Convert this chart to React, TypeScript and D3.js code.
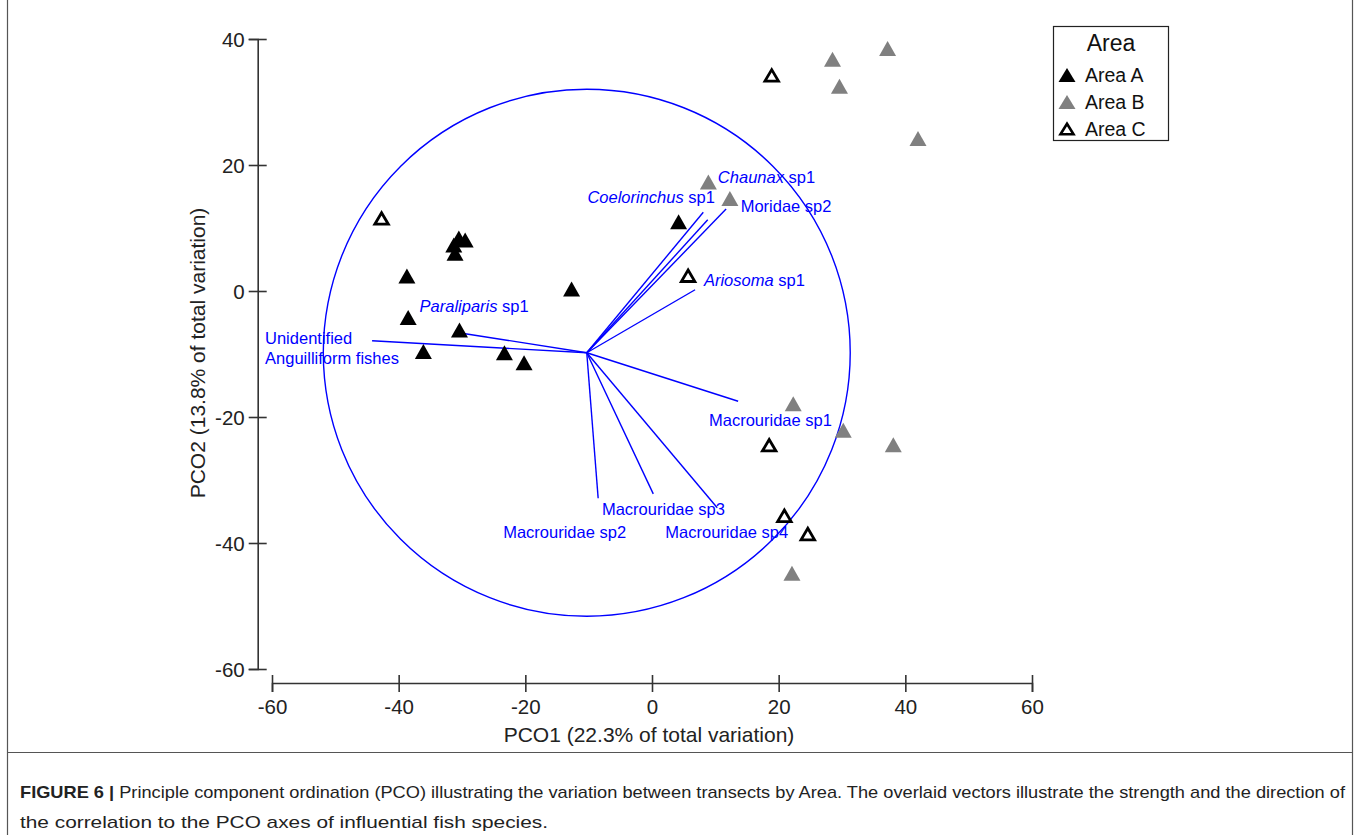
import React, { useRef, useEffect } from 'react';
import * as d3 from 'd3';

// transect scores (PCO1, PCO2)
const areaA = [
  [-38.7, 2.4], [-38.5, -4.2], [-36.1, -9.6], [-30.5, 8.4], [-29.5, 8.1],
  [-31.3, 7.3], [-31.1, 6.0], [-30.4, -6.2], [-23.3, -9.8], [-20.2, -11.4],
  [-12.7, 0.3], [4.2, 11.0],
];
const areaB = [
  [8.9, 17.3], [12.3, 14.7], [28.5, 36.8], [37.2, 38.5], [29.6, 32.5],
  [42.0, 24.2], [22.3, -17.9], [30.2, -22.1], [38.1, -24.4], [22.1, -44.8],
];
const areaC = [
  [18.9, 34.3], [-42.7, 11.6], [5.7, 2.5], [18.5, -24.4], [20.9, -35.6], [24.6, -38.5],
];

const vectorOrigin = [-10.3, -9.8];
const circleRadius = 41.6;

// species vectors: end point and where the label sits
const speciesNames = [
  ['Unidentified', 'Anguilliform fishes'],
  ['Paraliparis', ' sp1'],
  ['Coelorinchus', ' sp1'],
  ['Chaunax', ' sp1'],
  ['Moridae sp2', ''],
  ['Ariosoma', ' sp1'],
  ['Macrouridae sp1', ''],
  ['Macrouridae sp2', ''],
  ['Macrouridae sp3', ''],
  ['Macrouridae sp4', ''],
];
const italicGenus = [false, true, true, true, false, true, false, false, false, false];
const vectorEnds = [
  [-44.2, -7.9], [-30.0, -6.7], [8.1, 12.5], [8.8, 11.3], [11.7, 13.0],
  [6.8, 0.2], [13.6, -17.5], [-8.5, -32.9], [0.2, -32.2], [10.3, -34.4],
];
const labelAnchors = [
  [-61.1, -8.4], [-36.7, -3.3], [-10.2, 14.0], [10.4, 17.2], [14.0, 12.5],
  [8.2, 0.8], [9.0, -21.4], [-23.5, -39.2], [-7.9, -35.5], [2.1, -39.2],
];

const xTicks = [-60, -40, -20, 0, 20, 40, 60];
const yTicks = [40, 20, 0, -20, -40, -60];
const legendLabels = ['Area A', 'Area B', 'Area C'];

const FONT = 'Liberation Sans, Arial, sans-serif';
const BLUE = '#0000ff';

const tri = (w: number, h: number) =>
  `M0,${-h / 2}L${w / 2},${h / 2}L${-w / 2},${h / 2}Z`;

export default function App() {
  const ref = useRef<SVGSVGElement>(null);
  const width = 1360;
  const height = 835;

  useEffect(() => {
    if (!ref.current) return;
    const svg = d3.select(ref.current);
    svg.selectAll('*').remove();

    const x = d3.scaleLinear().domain([-60, 60]).range([272, 1032]);
    const y = d3.scaleLinear().domain([40, -60]).range([39, 669]);

    // figure frame + caption separator
    const frame = svg.append('g').attr('stroke', '#555').attr('stroke-width', 1.2);
    frame.append('line').attr('x1', 7.5).attr('x2', 7.5).attr('y1', 0).attr('y2', height);
    frame.append('line').attr('x1', 1352.5).attr('x2', 1352.5).attr('y1', 0).attr('y2', height);
    frame.append('line').attr('x1', 7.5).attr('x2', 1352.5).attr('y1', 752.5).attr('y2', 752.5);

    // axes
    const fmt = (d: any) => String(d);
    const yAxis = svg
      .append('g')
      .attr('transform', 'translate(257.7,0)')
      .call(d3.axisLeft(y).tickValues(yTicks).tickFormat(fmt).tickSizeOuter(0).tickSize(9));
    yAxis.selectAll('.tick line').attr('x1', 9).attr('x2', -9);
    yAxis.selectAll('.tick text').attr('x', -13).attr('dy', '0.36em');

    const xAxis = svg
      .append('g')
      .attr('transform', 'translate(0,683)')
      .call(d3.axisBottom(x).tickValues(xTicks).tickFormat(fmt).tickSizeOuter(0).tickSize(9));
    xAxis.selectAll('.tick line').attr('y1', -8).attr('y2', 9);
    xAxis.selectAll('.tick text').attr('y', 31).attr('dy', null);

    [yAxis, xAxis].forEach((g) => {
      g.attr('font-family', FONT).attr('font-size', 20.5);
      g.selectAll('path.domain').attr('stroke', '#333').attr('stroke-width', 1.6);
      g.selectAll('.tick line').attr('stroke', '#333').attr('stroke-width', 1.6);
      g.selectAll('.tick text').attr('fill', '#222');
    });

    svg
      .append('text')
      .attr('x', 649)
      .attr('y', 742)
      .attr('text-anchor', 'middle')
      .attr('font-family', FONT)
      .attr('font-size', 21)
      .attr('fill', '#222')
      .text('PCO1 (22.3% of total variation)');

    svg
      .append('text')
      .attr('transform', 'translate(205,353) rotate(-90)')
      .attr('text-anchor', 'middle')
      .attr('font-family', FONT)
      .attr('font-size', 21)
      .attr('fill', '#222')
      .text('PCO2 (13.8% of total variation)');

    // correlation circle + vectors
    const cx = x(vectorOrigin[0]);
    const cy = y(vectorOrigin[1]);
    svg
      .append('circle')
      .attr('cx', cx)
      .attr('cy', cy)
      .attr('r', x(vectorOrigin[0] + circleRadius) - cx)
      .attr('fill', 'none')
      .attr('stroke', BLUE)
      .attr('stroke-width', 1.4);

    svg
      .append('g')
      .selectAll('line')
      .data(vectorEnds)
      .join('line')
      .attr('x1', cx)
      .attr('y1', cy)
      .attr('x2', (d) => x(d[0]))
      .attr('y2', (d) => y(d[1]))
      .attr('stroke', BLUE)
      .attr('stroke-width', 1.4);

    // points
    const pts = svg.append('g');
    pts
      .selectAll('path.b')
      .data(areaB)
      .join('path')
      .attr('class', 'b')
      .attr('d', tri(17, 15))
      .attr('transform', (d) => `translate(${x(d[0])},${y(d[1])})`)
      .attr('fill', '#808080');
    pts
      .selectAll('path.c')
      .data(areaC)
      .join('path')
      .attr('class', 'c')
      .attr('d', tri(13.5, 11.5))
      .attr('transform', (d) => `translate(${x(d[0])},${y(d[1]) + 0.5})`)
      .attr('fill', '#fff')
      .attr('stroke', '#000')
      .attr('stroke-width', 2.8)
      .attr('stroke-linejoin', 'miter');
    pts
      .selectAll('path.a')
      .data(areaA)
      .join('path')
      .attr('class', 'a')
      .attr('d', tri(17, 15))
      .attr('transform', (d) => `translate(${x(d[0])},${y(d[1])})`)
      .attr('fill', '#000');

    // vector labels
    const labels = svg
      .append('g')
      .attr('font-family', FONT)
      .attr('font-size', 16.5)
      .attr('fill', BLUE);
    speciesNames.forEach((name, i) => {
      const [lx, ly] = labelAnchors[i];
      const t = labels.append('text').attr('x', x(lx)).attr('y', y(ly));
      if (i === 0) {
        t.append('tspan').attr('x', x(lx)).text(name[0]);
        t.append('tspan').attr('x', x(lx)).attr('dy', 20).text(name[1]);
      } else {
        t.append('tspan')
          .attr('font-style', italicGenus[i] ? 'italic' : 'normal')
          .text(name[0]);
        if (name[1]) t.append('tspan').text(name[1]);
      }
    });

    // legend
    const legend = svg.append('g').attr('font-family', FONT);
    legend
      .append('rect')
      .attr('x', 1053.5)
      .attr('y', 26.5)
      .attr('width', 115)
      .attr('height', 114)
      .attr('fill', '#fff')
      .attr('stroke', '#222')
      .attr('stroke-width', 1.2);
    legend
      .append('text')
      .attr('x', 1111)
      .attr('y', 51)
      .attr('text-anchor', 'middle')
      .attr('font-size', 23)
      .attr('fill', '#111')
      .text('Area');
    const rows = legend
      .selectAll('g.row')
      .data(legendLabels)
      .join('g')
      .attr('class', 'row')
      .attr('transform', (d, i) => `translate(0,${82 + i * 27})`);
    rows
      .append('path')
      .attr('transform', 'translate(1067,-7)')
      .attr('d', (d, i) => (i === 2 ? tri(13, 10.5) : tri(17, 14)))
      .attr('fill', (d, i) => (i === 0 ? '#000' : i === 1 ? '#808080' : '#fff'))
      .attr('stroke', (d, i) => (i === 2 ? '#000' : 'none'))
      .attr('stroke-width', 2.6);
    rows
      .append('text')
      .attr('x', 1085)
      .attr('y', 0)
      .attr('font-size', 19.5)
      .attr('fill', '#111')
      .text((d) => d);

    // caption
    const cap = svg
      .append('g')
      .attr('font-family', FONT)
      .attr('font-size', 17)
      .attr('fill', '#222');
    const line1 = cap
      .append('text')
      .attr('x', 20)
      .attr('y', 798)
      .attr('textLength', 1325)
      .attr('lengthAdjust', 'spacingAndGlyphs');
    line1.append('tspan').attr('font-weight', 'bold').text('FIGURE 6 | ');
    line1
      .append('tspan')
      .text(
        'Principle component ordination (PCO) illustrating the variation between transects by Area. The overlaid vectors illustrate the strength and the direction of'
      );
    cap
      .append('text')
      .attr('x', 20)
      .attr('y', 828)
      .attr('textLength', 528)
      .attr('lengthAdjust', 'spacingAndGlyphs')
      .text('the correlation to the PCO axes of influential fish species.');
  }, []);

  return (
    <svg
      ref={ref}
      width={width}
      height={height}
      style={{ position: 'absolute', left: 0, top: 0, background: '#fff' }}
    />
  );
}
